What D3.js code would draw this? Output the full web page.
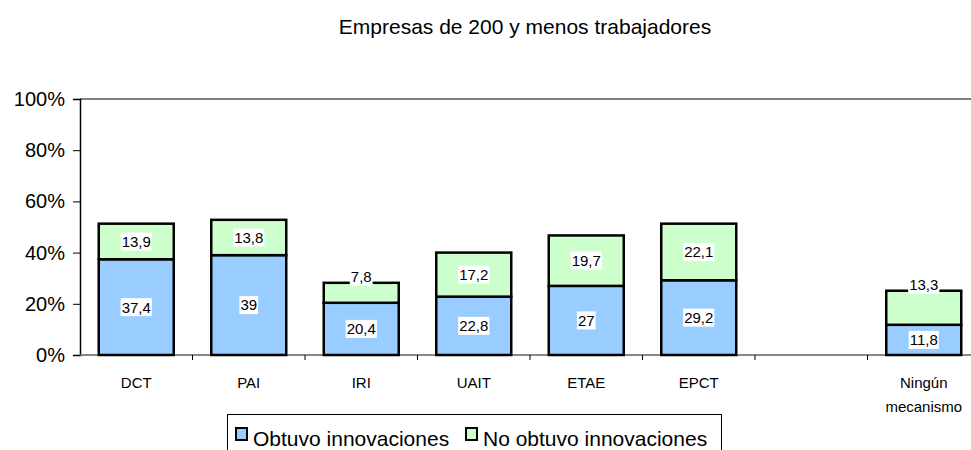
<!DOCTYPE html>
<html>
<head>
<meta charset="utf-8">
<script src="https://cdn.jsdelivr.net/npm/d3@7"></script>
<style>
  html, body { margin: 0; padding: 0; background: #fff; }
  svg { display: block; font-family: "Liberation Sans", Arial, sans-serif; }
</style>
</head>
<body>
<svg id="chart" width="971" height="450"></svg>
<script>
// ---- data ----
const title = "Empresas de 200 y menos trabajadores";
const categories = ["DCT", "PAI", "IRI", "UAIT", "ETAE", "EPCT", "", "Ningún mecanismo"];
const obtuvo = [37.4, 39, 20.4, 22.8, 27, 29.2, null, 11.8];
const noObtuvo = [13.9, 13.8, 7.8, 17.2, 19.7, 22.1, null, 13.3];
const obtuvoLabels = ["37,4", "39", "20,4", "22,8", "27", "29,2", null, "11,8"];
const noObtuvoLabels = ["13,9", "13,8", "7,8", "17,2", "19,7", "22,1", null, "13,3"];
const seriesNames = ["Obtuvo innovaciones", "No obtuvo innovaciones"];
const yTicks = [0, 20, 40, 60, 80, 100];

// ---- layout ----
const svg = d3.select("#chart");
const pLeft = 80, pRight = 980, pTop = 99, pBottom = 355;
const colors = ["#99CCFF", "#CCFFCC"];

const x = d3.scaleBand().domain(categories.map((c, i) => i)).range([pLeft, pRight])
  .paddingInner(1 / 3).paddingOuter(1 / 6);
const y = d3.scaleLinear().domain([0, 100]).range([pBottom, pTop]);

// title
svg.append("text").attr("x", 525).attr("y", 34).attr("text-anchor", "middle")
  .attr("font-size", 21).attr("fill", "#000").text(title);

// top plot border
svg.append("line").attr("x1", pLeft).attr("x2", pRight).attr("y1", pTop).attr("y2", pTop)
  .attr("stroke", "#808080").attr("stroke-width", 2);

// y axis
const yAxis = svg.append("g").attr("transform", `translate(${pLeft},0)`)
  .call(d3.axisLeft(y).tickValues(yTicks).tickFormat(d => d + "%").tickSize(7).tickPadding(8));
yAxis.select(".domain").attr("stroke", "#000").attr("stroke-width", 1.5);
yAxis.selectAll(".tick line").attr("stroke", "#000");
yAxis.selectAll("text").attr("font-size", 20).attr("fill", "#000")
  .attr("font-family", "Liberation Sans, Arial, sans-serif");

// x axis line and ticks at band boundaries
svg.append("line").attr("x1", pLeft).attr("x2", pRight).attr("y1", pBottom).attr("y2", pBottom)
  .attr("stroke", "#606060").attr("stroke-width", 1.5);
const step = x.step();
categories.forEach((c, i) => {
  if (i === 0) return;
  const bx = x(i) - (step - x.bandwidth()) / 2;
  svg.append("line").attr("x1", bx).attr("x2", bx).attr("y1", pBottom).attr("y2", pBottom + 5)
    .attr("stroke", "#000").attr("stroke-width", 1);
});

// x labels
categories.forEach((c, i) => {
  if (!c) return;
  const cx = x(i) + x.bandwidth() / 2;
  const words = c.split(" ");
  const t = svg.append("text").attr("text-anchor", "middle").attr("font-size", 15)
    .attr("fill", "#000");
  words.forEach((w, k) => {
    t.append("tspan").attr("x", cx).attr("y", 388 + k * 24).text(w);
  });
});

// bars
const stacks = [obtuvo, noObtuvo];
const labels = [obtuvoLabels, noObtuvoLabels];
const labelLayer = [];
categories.forEach((c, i) => {
  if (obtuvo[i] == null) return;
  let base = 0;
  stacks.forEach((s, k) => {
    const v = s[i];
    const y0 = y(base), y1 = y(base + v);
    svg.append("rect").attr("x", x(i)).attr("width", x.bandwidth())
      .attr("y", y1).attr("height", y0 - y1)
      .attr("fill", colors[k]).attr("stroke", "#000").attr("stroke-width", 2.5);
    let ly = (y0 + y1) / 2;
    if (k === 1 && (y0 - y1) < 34.5) ly = y1 - 6;
    labelLayer.push({ cx: x(i) + x.bandwidth() / 2, cy: ly, text: labels[k][i] });
    base += v;
  });
});

// data labels with white boxes
labelLayer.forEach(d => {
  const g = svg.append("g");
  const t = g.append("text").attr("x", d.cx).attr("y", d.cy).attr("dy", "0.36em")
    .attr("text-anchor", "middle").attr("font-size", 15).attr("fill", "#000").text(d.text);
  const bb = t.node().getBBox();
  g.insert("rect", "text").attr("x", bb.x - 1).attr("y", d.cy - 9).attr("width", bb.width + 2)
    .attr("height", 18).attr("fill", "#fff");
});

// legend
const lg = svg.append("g");
lg.append("rect").attr("x", 227.5).attr("y", 414.5).attr("width", 494).attr("height", 50)
  .attr("fill", "#fff").attr("stroke", "#000").attr("stroke-width", 1);
const legendItems = [{ x: 235, tx: 253 }, { x: 465, tx: 483 }];
seriesNames.forEach((n, k) => {
  lg.append("rect").attr("x", legendItems[k].x + 1).attr("y", 428).attr("width", 11).attr("height", 12)
    .attr("fill", colors[k]).attr("stroke", "#000").attr("stroke-width", 2);
  lg.append("text").attr("x", legendItems[k].tx).attr("y", 446).attr("font-size", 21)
    .attr("fill", "#000").text(n);
});
</script>
</body>
</html>
